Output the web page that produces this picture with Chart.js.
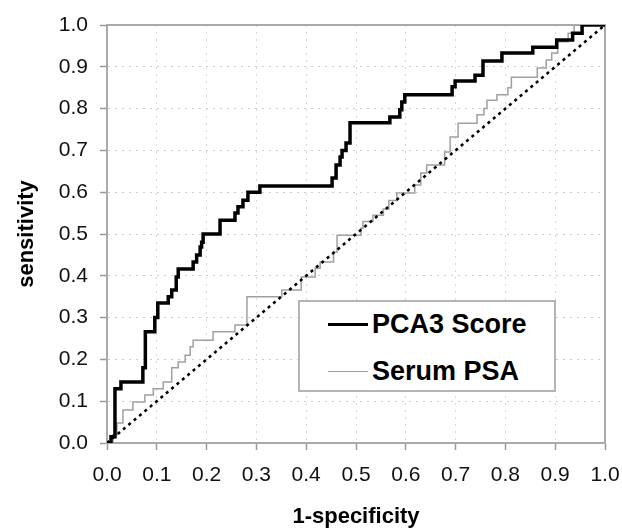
<!DOCTYPE html>
<html>
<head>
<meta charset="utf-8">
<script src="https://cdn.jsdelivr.net/npm/chart.js@4"></script>
<style>
html, body { margin: 0; padding: 0; background: #fff; }
#wrap { position: relative; width: 622px; height: 530px; overflow: hidden; }
#legend { position: absolute; left: 298px; top: 300px; width: 254px; height: 88px;
  border: 2px solid #b4b4b4; background: #fff;
  font-family: 'Liberation Sans', Arial, sans-serif; font-weight: bold; font-size: 27px; color: #000; }
.row { position: absolute; left: 0; height: 30px; display: flex; align-items: center; }
.sw { width: 40px; margin-left: 28px; margin-right: 4px; }
</style>
</head>
<body>
<div id="wrap">
  <canvas id="roc" width="622" height="530"></canvas>
  <div id="legend">
    <div class="row" style="top:7px"><div class="sw" style="border-top:3.5px solid #000"></div><span>PCA3 Score</span></div>
    <div class="row" style="top:54px"><div class="sw" style="border-top:1.5px solid #a0a0a0"></div><span>Serum PSA</span></div>
  </div>
</div>
<script>
// ROC curves (1-specificity, sensitivity)
var pcaFpr = [0, 0.008, 0.016, 0.028, 0.072, 0.077, 0.096, 0.102, 0.123, 0.13, 0.139, 0.143, 0.173, 0.18, 0.187, 0.19, 0.193,
  0.227, 0.257, 0.263, 0.273, 0.283, 0.307, 0.452, 0.46, 0.468, 0.472, 0.48, 0.488, 0.568, 0.588, 0.592, 0.598,
  0.693, 0.699, 0.739, 0.755, 0.793, 0.855, 0.903, 0.935, 0.954, 1.0];
var pcaTpr = [0, 0.015, 0.13, 0.146, 0.18, 0.266, 0.30, 0.335, 0.35, 0.366, 0.397, 0.416, 0.433, 0.45, 0.469, 0.48, 0.5,
  0.533, 0.55, 0.565, 0.581, 0.6, 0.615, 0.634, 0.665, 0.684, 0.70, 0.718, 0.766, 0.78, 0.797, 0.816, 0.833,
  0.852, 0.866, 0.88, 0.914, 0.933, 0.947, 0.964, 0.98, 1.0, 1.0];

var psaFpr = [0, 0.012, 0.02, 0.032, 0.052, 0.076, 0.093, 0.113, 0.13, 0.143, 0.157, 0.167, 0.173, 0.213, 0.257, 0.281,
  0.351, 0.39, 0.418, 0.428, 0.455, 0.462, 0.51, 0.514, 0.534, 0.555, 0.566, 0.582, 0.618, 0.63, 0.642, 0.678,
  0.689, 0.705, 0.743, 0.757, 0.763, 0.783, 0.805, 0.812, 0.864, 0.882, 0.893, 0.905, 0.926, 0.938, 1.0];
var psaTpr = [0, 0.02, 0.048, 0.079, 0.098, 0.115, 0.13, 0.146, 0.18, 0.194, 0.21, 0.23, 0.246, 0.266, 0.282, 0.35,
  0.366, 0.397, 0.418, 0.433, 0.457, 0.497, 0.514, 0.53, 0.545, 0.56, 0.58, 0.598, 0.617, 0.646, 0.665, 0.696,
  0.732, 0.765, 0.785, 0.80, 0.82, 0.833, 0.85, 0.875, 0.897, 0.916, 0.933, 0.96, 0.98, 1.0, 1.0];

var chanceFpr = [0, 1];
var chanceTpr = [0, 1];

var xTickLabels = ['0.0', '0.1', '0.2', '0.3', '0.4', '0.5', '0.6', '0.7', '0.8', '0.9', '1.0'];
var yTickLabels = ['0.0', '0.1', '0.2', '0.3', '0.4', '0.5', '0.6', '0.7', '0.8', '0.9', '1.0'];

function puntos(xs, ys) {
  return xs.map(function (x, i) { return { x: x, y: ys[i] }; });
}

var fuente = "'Liberation Sans', Arial, sans-serif";
var ctx = document.getElementById('roc').getContext('2d');

var grafica = new Chart(ctx, {
  type: 'scatter',
  data: {
    datasets: [
      { label: 'PCA3 Score', data: puntos(pcaFpr, pcaTpr), showLine: true, stepped: 'before',
        borderColor: '#000', borderWidth: 3.5, borderJoinStyle: 'miter', pointRadius: 0, order: 1 },
      { label: 'Chance', data: puntos(chanceFpr, chanceTpr), showLine: true,
        borderColor: '#000', borderWidth: 2.5, borderDash: [3, 4], pointRadius: 0, order: 2 },
      { label: 'Serum PSA', data: puntos(psaFpr, psaTpr), showLine: true, stepped: 'before',
        borderColor: '#a0a0a0', borderWidth: 1.5, borderJoinStyle: 'miter', pointRadius: 0, order: 3 }
    ]
  },
  options: {
    responsive: false,
    animation: false,
    layout: { padding: { top: 25, right: 17, left: 0, bottom: 0 } },
    plugins: { legend: { display: false }, tooltip: { enabled: false } },
    scales: {
      x: {
        type: 'linear', position: 'bottom', min: 0, max: 1,
        afterFit: function (s) { s.height = 87; s.paddingLeft = 0; s.paddingRight = 0; },
        ticks: { stepSize: 0.1, padding: 13, color: '#111', font: { family: fuente, size: 21 },
          callback: function (v, i) { return xTickLabels[i]; } },
        grid: { color: '#d8d8d8', lineWidth: 1, tickLength: 7, tickColor: '#999', tickWidth: 1.5 },
        border: { color: '#aaa', width: 2, dash: [2, 5] },
        title: { display: true, text: '1-specificity', color: '#000',
          font: { family: fuente, size: 22, weight: 'bold' }, padding: { top: 0, bottom: 0 } }
      },
      y: {
        type: 'linear', position: 'left', min: 0, max: 1,
        afterFit: function (s) { s.width = 107; s.paddingTop = 0; s.paddingBottom = 0; },
        ticks: { stepSize: 0.1, padding: 12, color: '#111', font: { family: fuente, size: 21 },
          callback: function (v, i) { return yTickLabels[i]; } },
        grid: { color: '#cccccc', lineWidth: 1, tickLength: 7, tickColor: '#999', tickWidth: 1.5 },
        border: { color: '#aaa', width: 2, dash: [2, 5] },
        title: { display: true, text: 'sensitivity', color: '#000',
          font: { family: fuente, size: 22, weight: 'bold' }, padding: { top: 14, bottom: 0 } }
      },
      xTop: {
        type: 'linear', position: 'top', min: 0, max: 1,
        afterFit: function (s) { s.height = 0; },
        ticks: { display: false }, grid: { display: false },
        border: { color: '#aaa', width: 2 }
      },
      yRight: {
        type: 'linear', position: 'right', min: 0, max: 1,
        afterFit: function (s) { s.width = 0; },
        ticks: { display: false }, grid: { display: false },
        border: { color: '#aaa', width: 2 }
      }
    }
  }
});
</script>
</body>
</html>
